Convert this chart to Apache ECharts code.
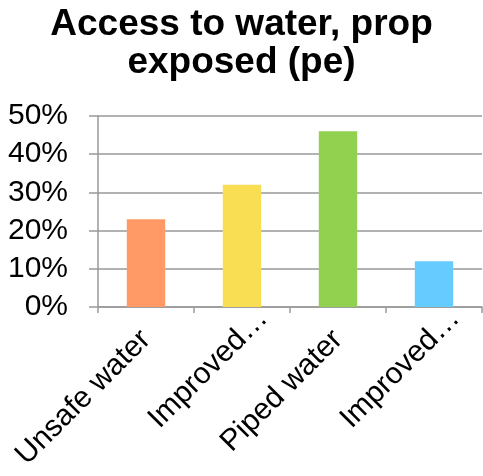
<!DOCTYPE html>
<html>
<head>
<meta charset="utf-8">
<script src="https://cdn.jsdelivr.net/npm/echarts@6/dist/echarts.min.js"></script>
<style>
  html, body { margin: 0; padding: 0; background: #fff; }
  #chart { width: 483px; height: 476px; }
</style>
</head>
<body>
<div id="chart"></div>
<script>
// Share of people exposed, by water source
const categories = ['Unsafe water', 'Improved…', 'Piped water', 'Improved…'];
const values = [23, 32, 46, 12];
const barColors = ['#FF9966', '#F9DD53', '#92D050', '#66CCFF'];
const yTicks = [0, 10, 20, 30, 40, 50];

const FONT = 'Liberation Sans, Arial, sans-serif';
const chart = echarts.init(document.getElementById('chart'), null, { renderer: 'canvas' });

// Truncated names keep their word end on the tick; the ellipsis runs past it.
const categoryItems = categories.map(name => name.endsWith('…')
  ? { value: name, textStyle: { padding: [0, -30, 0, 0] } }
  : name);

chart.setOption({
  animation: false,
  backgroundColor: '#ffffff',
  title: {
    text: 'Access to water, prop\nexposed (pe)',
    left: 'center',
    top: 1,
    textStyle: {
      fontFamily: FONT,
      fontWeight: 'bold',
      fontSize: 37,
      lineHeight: 38,
      color: '#000'
    }
  },
  grid: { left: 98, right: 1, top: 116, bottom: 169, containLabel: false },
  xAxis: {
    type: 'category',
    data: categoryItems,
    axisLine: { show: true, lineStyle: { color: '#999', width: 1.5 } },
    axisTick: { show: true, length: 6, lineStyle: { color: '#999', width: 1.5 } },
    axisLabel: {
      rotate: 45,
      interval: 0,
      margin: 28,
      fontFamily: FONT,
      fontSize: 30,
      color: '#000'
    }
  },
  yAxis: {
    type: 'value',
    min: yTicks[0],
    max: yTicks[yTicks.length - 1],
    interval: 10,
    axisLine: { show: true, lineStyle: { color: '#999', width: 1.5 } },
    axisTick: { show: true, length: 9, lineStyle: { color: '#999', width: 1.5 } },
    splitLine: { show: true, lineStyle: { color: '#999', width: 1.5 } },
    axisLabel: {
      formatter: v => v + '%',
      margin: 30,
      fontFamily: FONT,
      fontSize: 30,
      color: '#000'
    }
  },
  series: [{
    type: 'bar',
    barWidth: '40%',
    data: values.map((v, i) => ({ value: v, itemStyle: { color: barColors[i] } }))
  }]
});
</script>
</body>
</html>
